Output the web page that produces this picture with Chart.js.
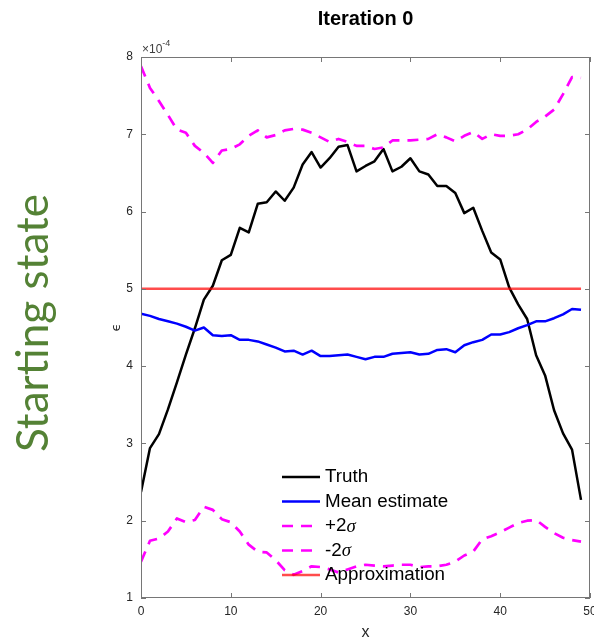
<!DOCTYPE html>
<html>
<head>
<meta charset="utf-8">
<script src="https://cdn.jsdelivr.net/npm/chart.js@4.4.1/dist/chart.umd.min.js"></script>
<style>
  html, body { margin: 0; padding: 0; background: #fff; }
  #wrap { width: 594px; height: 643px; position: relative; }
</style>
</head>
<body>
<div id="wrap"><canvas id="chart"></canvas></div>
<script>
// grid index along x
const xPositions = [0, 1, 2, 3, 4, 5, 6, 7, 8, 9,
    10, 11, 12, 13, 14, 15, 16, 17, 18, 19,
    20, 21, 22, 23, 24, 25, 26, 27, 28, 29,
    30, 31, 32, 33, 34, 35, 36, 37, 38, 39,
    40, 41, 42, 43, 44, 45, 46, 47, 48, 49];

// all values in units of 1e-4
const truth = [2.37, 2.94, 3.12, 3.44, 3.79, 4.15, 4.49, 4.86, 5.04, 5.37,
    5.44, 5.79, 5.73, 6.10, 6.12, 6.26, 6.14, 6.31, 6.61, 6.77,
    6.57, 6.69, 6.84, 6.86, 6.52, 6.59, 6.65, 6.81, 6.52, 6.58,
    6.69, 6.52, 6.48, 6.33, 6.33, 6.24, 5.98, 6.05, 5.75, 5.47,
    5.38, 5.02, 4.80, 4.61, 4.14, 3.88, 3.43, 3.13, 2.92, 2.27];

const meanEstimate = [4.68, 4.65, 4.61, 4.58, 4.55, 4.51, 4.46, 4.50, 4.40, 4.39,
    4.40, 4.34, 4.34, 4.32, 4.28, 4.24, 4.19, 4.20, 4.15, 4.20,
    4.13, 4.13, 4.14, 4.15, 4.12, 4.09, 4.12, 4.12, 4.16, 4.17,
    4.18, 4.15, 4.16, 4.21, 4.22, 4.18, 4.27, 4.31, 4.34, 4.41,
    4.41, 4.44, 4.49, 4.53, 4.58, 4.58, 4.62, 4.67, 4.74, 4.73];

const plus2Sigma = [7.88, 7.60, 7.43, 7.25, 7.06, 7.02, 6.85, 6.76, 6.63, 6.79,
    6.81, 6.87, 6.98, 7.05, 6.96, 6.99, 7.05, 7.07, 7.06, 7.02,
    6.96, 6.90, 6.94, 6.90, 6.85, 6.85, 6.81, 6.83, 6.92, 6.92,
    6.92, 6.93, 6.94, 7.00, 6.96, 6.91, 6.98, 7.03, 6.94, 7.00,
    6.98, 6.98, 7.00, 7.06, 7.16, 7.23, 7.32, 7.52, 7.74, 7.73];

const minus2Sigma = [1.47, 1.74, 1.77, 1.86, 2.03, 1.98, 2.01, 2.18, 2.14, 2.02,
    1.98, 1.86, 1.69, 1.60, 1.59, 1.49, 1.36, 1.30, 1.35, 1.41,
    1.40, 1.37, 1.33, 1.37, 1.41, 1.43, 1.42, 1.41, 1.42, 1.43,
    1.43, 1.40, 1.41, 1.41, 1.43, 1.47, 1.55, 1.60, 1.76, 1.80,
    1.85, 1.91, 1.97, 2.00, 2.01, 1.92, 1.84, 1.78, 1.75, 1.73];

const approximation = [5, 5, 5, 5, 5, 5, 5, 5, 5, 5,
    5, 5, 5, 5, 5, 5, 5, 5, 5, 5,
    5, 5, 5, 5, 5, 5, 5, 5, 5, 5,
    5, 5, 5, 5, 5, 5, 5, 5, 5, 5,
    5, 5, 5, 5, 5, 5, 5, 5, 5, 5];

const xTicks = [0, 10, 20, 30, 40, 50];
const yTicks = [1, 2, 3, 4, 5, 6, 7, 8];

const SANS = '"Liberation Sans", Arial, Helvetica, sans-serif';

function toPoints(values) {
    return xPositions.map((x, i) => ({ x: x, y: values[i] }));
}

// box with inward ticks on all four sides, like a MATLAB axes
const axesFrame = {
    id: 'axesFrame',
    afterDraw(chart) {
        const { ctx, chartArea: a, scales } = chart;
        const len = 5;
        ctx.save();
        ctx.strokeStyle = '#767676';
        ctx.lineWidth = 1;
        ctx.strokeRect(a.left + 0.5, a.top + 0.5, a.right - a.left - 1, a.bottom - a.top - 1);
        ctx.beginPath();
        xTicks.forEach(v => {
            const px = Math.round(scales.x.getPixelForValue(v)) + 0.5;
            ctx.moveTo(px, a.bottom); ctx.lineTo(px, a.bottom - len);
            ctx.moveTo(px, a.top); ctx.lineTo(px, a.top + len);
        });
        yTicks.forEach(v => {
            const py = Math.round(scales.y.getPixelForValue(v)) + 0.5;
            ctx.moveTo(a.left, py); ctx.lineTo(a.left + len, py);
            ctx.moveTo(a.right, py); ctx.lineTo(a.right - len, py);
        });
        ctx.stroke();
        ctx.restore();
    }
};

// legend without a box, sitting inside the axes
const insideLegend = {
    id: 'insideLegend',
    afterDraw(chart) {
        const ctx = chart.ctx;
        const x0 = 282, x1 = 320, textX = 325;
        let y = 477;
        ctx.save();
        chart.data.datasets.forEach(ds => {
            ctx.beginPath();
            ctx.strokeStyle = ds.borderColor;
            ctx.lineWidth = ds.borderWidth;
            ctx.setLineDash(ds.borderDash || []);
            ctx.moveTo(x0, y);
            ctx.lineTo(x1, y);
            ctx.stroke();
            ctx.setLineDash([]);

            ctx.fillStyle = '#000';
            ctx.textBaseline = 'middle';
            ctx.textAlign = 'left';
            const parts = ds.label.split('σ');
            ctx.font = '18.8px ' + SANS;
            ctx.fillText(parts[0], textX, y);
            if (parts.length > 1) {
                const w = ctx.measureText(parts[0]).width;
                ctx.font = 'italic 18.8px "Liberation Serif", serif';
                ctx.fillText('σ', textX + w, y + 1);
            }
            y += 24.5;
        });
        ctx.restore();
    }
};

// title, axis titles, exponent and the side caption
const annotations = {
    id: 'annotations',
    afterDraw(chart) {
        const { ctx, chartArea: a } = chart;
        const cx = (a.left + a.right) / 2;
        const cy = (a.top + a.bottom) / 2;
        ctx.save();
        ctx.fillStyle = '#000';
        ctx.textAlign = 'center';
        ctx.textBaseline = 'alphabetic';
        ctx.font = 'bold 20px ' + SANS;
        ctx.fillText('Iteration 0', cx, 25);

        ctx.fillStyle = '#262626';
        ctx.font = '16px ' + SANS;
        ctx.fillText('x', cx, 637);

        ctx.fillStyle = '#404040';
        ctx.textAlign = 'left';
        ctx.font = '12px ' + SANS;
        ctx.fillText('×10', a.left + 1, 53);
        const w = ctx.measureText('×10').width;
        ctx.font = '9px ' + SANS;
        ctx.fillText('-4', a.left + 1 + w, 46);

        ctx.save();
        ctx.translate(117, cy);
        ctx.rotate(-Math.PI / 2);
        ctx.textAlign = 'center';
        ctx.textBaseline = 'middle';
        ctx.fillStyle = '#262626';
        ctx.font = '13px "DejaVu Sans", sans-serif';
        ctx.fillText('ϵ', 0, 0);
        ctx.restore();

        ctx.save();
        ctx.translate(48, 323);
        ctx.rotate(-Math.PI / 2);
        ctx.textAlign = 'center';
        ctx.textBaseline = 'alphabetic';
        ctx.fillStyle = '#548235';
        ctx.font = '40px Lato, "Open Sans", sans-serif';
        const tw = ctx.measureText('Starting state').width;
        const size = 40 * 258 / tw;
        ctx.font = size.toFixed(1) + 'px Lato, "Open Sans", sans-serif';
        ctx.fillText('Starting state', 0, 0);
        ctx.restore();

        ctx.restore();
    }
};

const tickFont = { family: SANS, size: 12 };

new Chart(document.getElementById('chart'), {
    type: 'line',
    data: {
        datasets: [
            { label: 'Truth', data: toPoints(truth), borderColor: '#000000', borderWidth: 2.5, order: 4 },
            { label: 'Mean estimate', data: toPoints(meanEstimate), borderColor: '#0000ff', borderWidth: 2.5, order: 3 },
            { label: '+2σ', data: toPoints(plus2Sigma), borderColor: '#ff00ff', borderWidth: 2.7, borderDash: [11, 8], order: 2 },
            { label: '-2σ', data: toPoints(minus2Sigma), borderColor: '#ff00ff', borderWidth: 2.7, borderDash: [11, 8], order: 1 },
            { label: 'Approximation', data: toPoints(approximation), borderColor: 'rgba(255,0,0,0.7)', borderWidth: 2.5, order: 0 }
        ]
    },
    options: {
        responsive: true,
        maintainAspectRatio: false,
        animation: false,
        elements: { point: { radius: 0 }, line: { tension: 0, borderJoinStyle: 'round' } },
        layout: { padding: { left: 0, right: 4, top: 57, bottom: 0 } },
        plugins: {
            legend: { display: false },
            tooltip: { enabled: false },
            title: { display: false }
        },
        scales: {
            x: {
                type: 'linear',
                min: 0,
                max: 50,
                grid: { display: false, drawTicks: false },
                border: { display: false },
                afterBuildTicks: s => { s.ticks = xTicks.map(v => ({ value: v })); },
                afterFit: s => { s.height = 45; s.paddingLeft = 0; s.paddingRight = 0; },
                ticks: { padding: 6, color: '#262626', font: tickFont, maxRotation: 0 }
            },
            y: {
                type: 'linear',
                min: 1,
                max: 8,
                grid: { display: false, drawTicks: false },
                border: { display: false },
                afterBuildTicks: s => { s.ticks = yTicks.map(v => ({ value: v })); },
                afterFit: s => { s.width = 141; s.paddingTop = 0; s.paddingBottom = 0; },
                ticks: { padding: 8, color: '#262626', font: tickFont }
            }
        }
    },
    plugins: [axesFrame, insideLegend, annotations]
});
</script>
</body>
</html>
